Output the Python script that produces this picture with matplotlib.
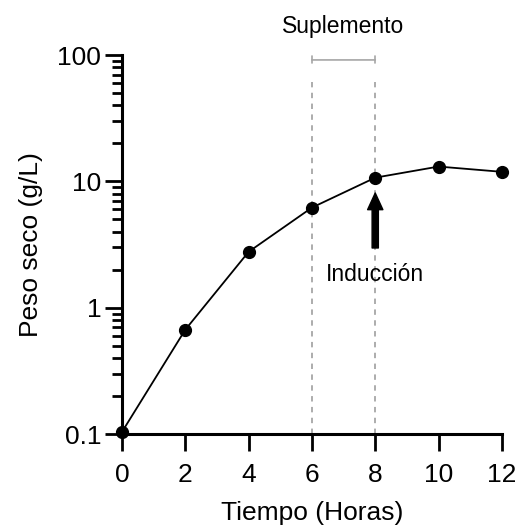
import numpy as np
import matplotlib
matplotlib.use("Agg")
from matplotlib import pyplot as plt

plt.rcParams['font.family'] = ['Liberation Sans', 'DejaVu Sans']

# data
horas = [0, 2, 4, 6, 8, 10, 12]
peso_seco = [0.104, 0.67, 2.77, 6.2, 10.7, 13.1, 11.9]
x_ticks = [0, 2, 4, 6, 8, 10, 12]
y_ticks = [0.1, 1, 10, 100]
y_labels = ["0.1", "1", "10", "100"]
suplemento = (6, 8)
induccion = 8

fig = plt.figure(figsize=(5.19, 5.32), dpi=100)
ax = fig.add_axes([0.235, 0.184, 0.732, 0.7126])

ax.set_yscale("log")
ax.set_xlim(0, 12)
ax.set_ylim(0.1, 100)

# dashed guide lines for the supplement window
for xv in suplemento:
    ax.axvline(xv, ymin=0, ymax=0.929, color="#a6a6a6", lw=1.3,
               ls=(0, (3, 3)), zorder=1)

ax.plot(horas, peso_seco, color="black", lw=1.3, marker="o",
        markersize=8.5, clip_on=False, zorder=3)

# bracket + label
ax.annotate("", xy=(suplemento[0], 0.987), xytext=(suplemento[1], 0.987),
            xycoords=("data", "axes fraction"), textcoords=("data", "axes fraction"),
            arrowprops=dict(arrowstyle="|-|,widthA=0.25,widthB=0.25",
                            color="#a6a6a6", lw=1.2, shrinkA=0, shrinkB=0),
            annotation_clip=False)
ax.text(np.mean(suplemento), 1.074, "Suplemento", transform=ax.get_xaxis_transform(),
        ha="center", va="center", fontsize=16.5)

# induction arrow
ax.annotate("", xy=(induccion, 0.636), xytext=(induccion, 0.491),
            xycoords=("data", "axes fraction"), textcoords=("data", "axes fraction"),
            arrowprops=dict(facecolor="black", edgecolor="black", width=4.5,
                            headwidth=11, headlength=12, shrink=0))
ax.text(induccion, 0.42, "Inducción", transform=ax.get_xaxis_transform(),
        ha="center", va="center", fontsize=16.5)

ax.set_xticks(x_ticks)
ax.set_yticks(y_ticks)
ax.set_yticklabels(y_labels)
ax.tick_params(axis="both", which="major", direction="out", length=12, width=2,
               labelsize=19)
ax.tick_params(axis="x", which="major", pad=9)
ax.tick_params(axis="y", which="minor", direction="out", length=7, width=2)
ax.tick_params(axis="y", which="major", pad=3)

for side in ["top", "right"]:
    ax.spines[side].set_visible(False)
for side in ["left", "bottom"]:
    ax.spines[side].set_linewidth(2.2)

ax.set_xlabel("Tiempo (Horas)", fontsize=19, labelpad=10)
ax.set_ylabel("Peso seco (g/L)", fontsize=19, labelpad=10)

fig.savefig("out.png", dpi=100)
